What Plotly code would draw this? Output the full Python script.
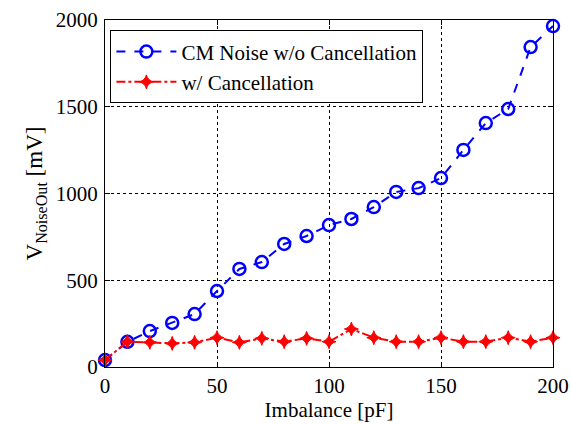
import plotly.graph_objects as go

imbalance = [0, 10, 20, 30, 40, 50, 60, 70, 80, 90, 100, 110, 120, 130, 140, 150, 160, 170, 180, 190, 200]
cm_noise = [40, 145, 207, 254, 305, 438, 565, 605, 709, 755, 818, 853, 922, 1009, 1031, 1089, 1251, 1406, 1487, 1844, 1965]
w_cancel = [40, 146, 142, 136, 142, 169, 142, 165, 146, 165, 146, 219, 169, 146, 146, 169, 146, 146, 169, 146, 169]
x_ticks = [0, 50, 100, 150, 200]
y_ticks = [0, 500, 1000, 1500, 2000]

font = "Liberation Serif, Times New Roman, serif"

fig = go.Figure()
fig.add_trace(go.Scatter(
    x=imbalance, y=cm_noise, mode="lines+markers", name="CM Noise w/o Cancellation",
    line=dict(color="#0000ff", width=2, dash="dash"),
    marker=dict(symbol="circle-open", size=12, color="#0000ff", line=dict(width=2.5, color="#0000ff")),
    cliponaxis=False,
))
fig.add_trace(go.Scatter(
    x=imbalance, y=w_cancel, mode="lines+markers", name="w/ Cancellation",
    line=dict(color="#ff0000", width=2, dash="dashdot"),
    marker=dict(symbol="star-diamond", size=10, color="#ff0000", line=dict(width=1, color="#ff0000")),
    cliponaxis=False,
))

axis_common = dict(
    showline=True, linecolor="black", linewidth=1, mirror="ticks",
    ticks="inside", ticklen=5, tickcolor="black",
    showgrid=True, gridcolor="black", griddash="dot", gridwidth=1,
    zeroline=False, automargin=False, ticklabeloverflow="allow",
    tickfont=dict(family=font, size=21, color="black"),
)

fig.update_xaxes(range=[0, 200], tickvals=x_ticks,
                 title=dict(text="Imbalance [pF]", font=dict(family=font, size=21, color="black"), standoff=2),
                 **axis_common)
fig.update_yaxes(range=[0, 2000], tickvals=y_ticks, ticklabelstandoff=2,
                 title=dict(text="V<sub>NoiseOut</sub> [mV]", font=dict(family=font, size=23, color="black"), standoff=6),
                 **axis_common)

fig.update_layout(
    width=571, height=424,
    margin=dict(l=105, r=18, t=20, b=57),
    paper_bgcolor="white", plot_bgcolor="white",
    showlegend=True,
    legend=dict(x=0.012, y=0.97, xanchor="left", yanchor="top",
                bgcolor="white", bordercolor="black", borderwidth=1,
                font=dict(family=font, size=21, color="black"),
                itemwidth=60, tracegroupgap=0),
)

fig.write_html("out.html")
